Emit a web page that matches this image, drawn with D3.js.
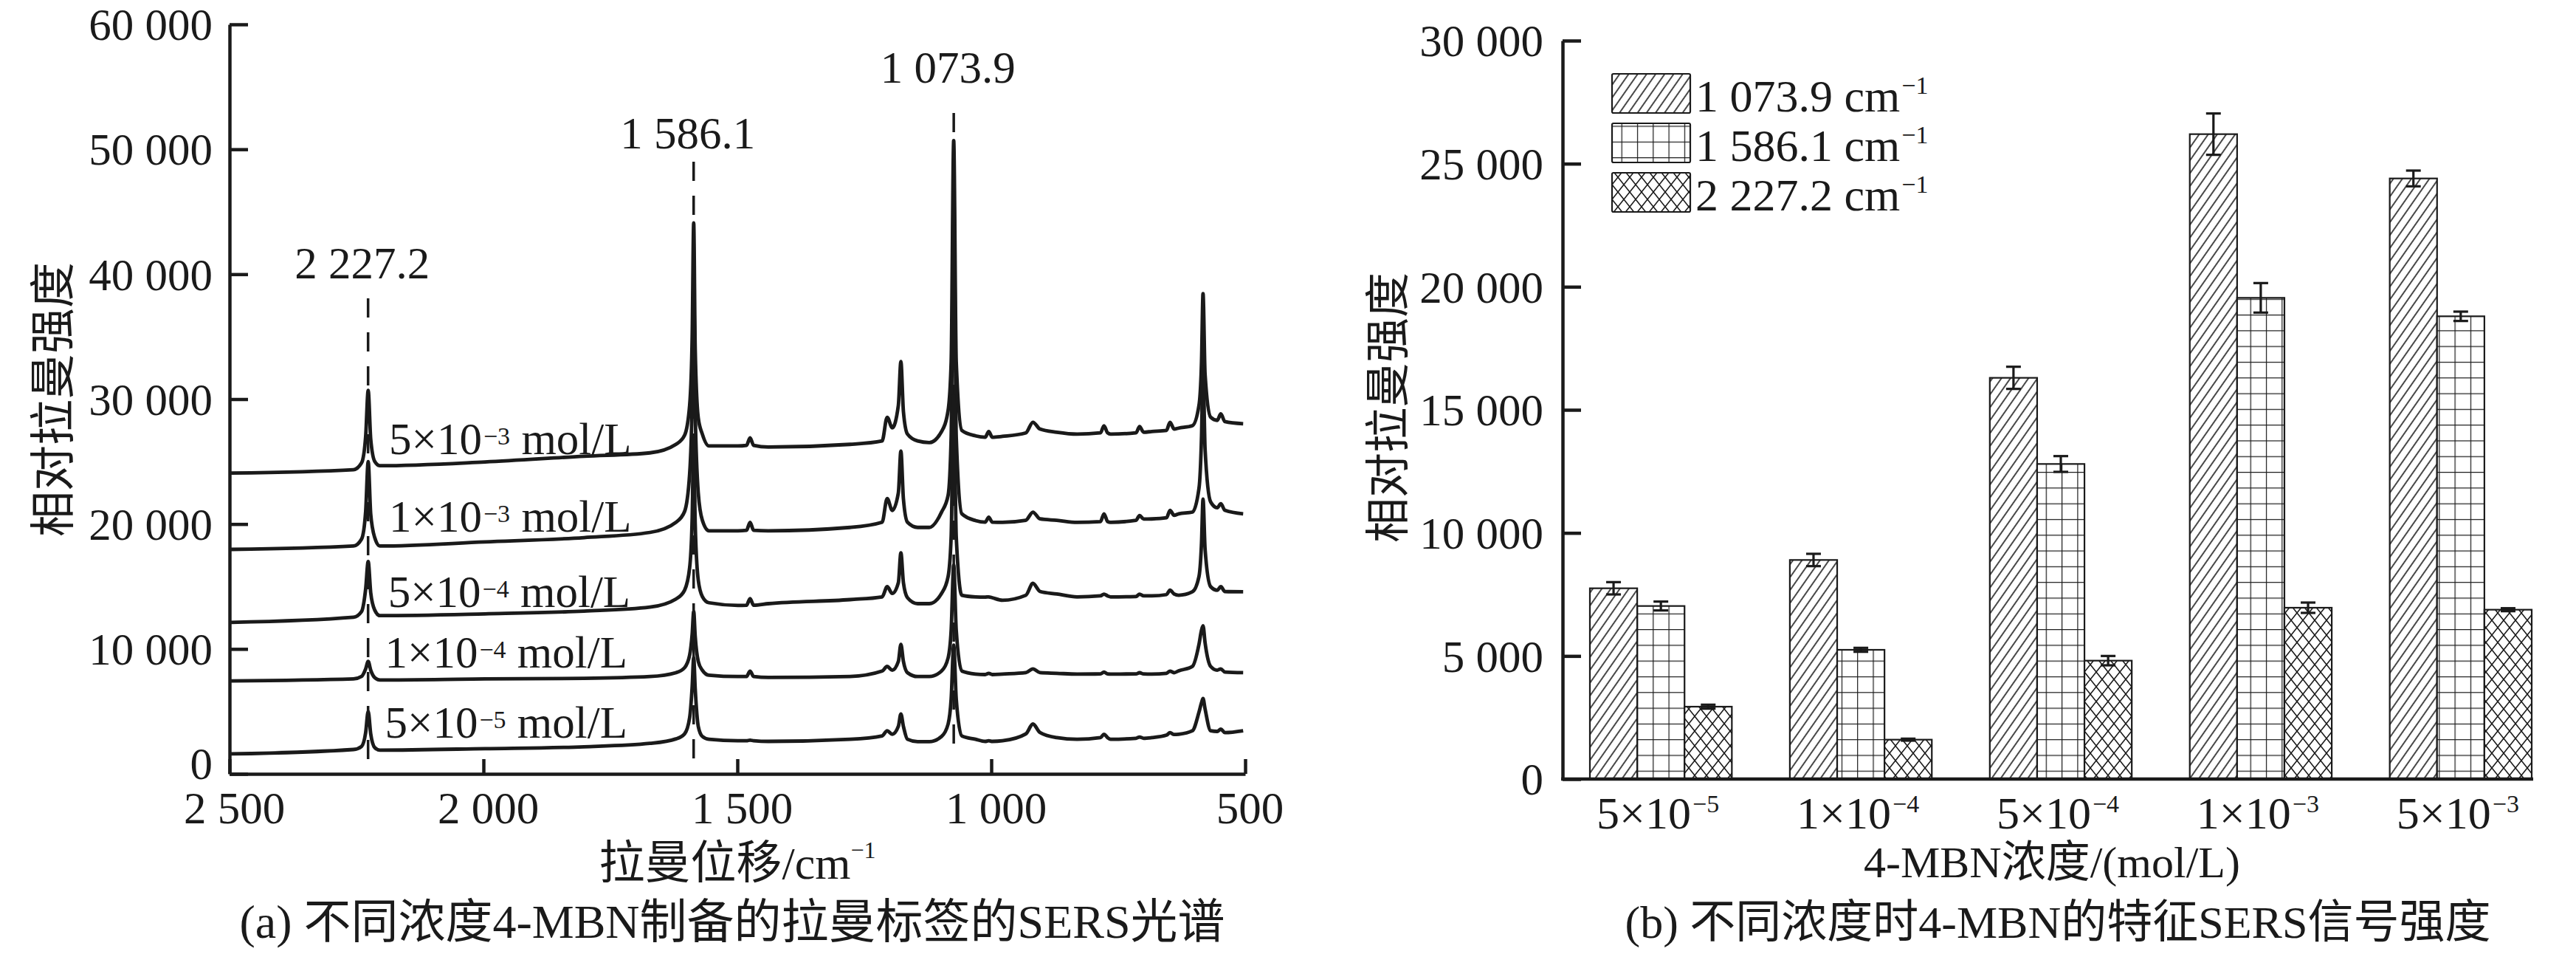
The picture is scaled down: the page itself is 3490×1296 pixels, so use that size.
<!DOCTYPE html>
<html><head><meta charset="utf-8">
<script src="https://cdn.jsdelivr.net/npm/d3@7/dist/d3.min.js"></script>
<style>body{margin:0;background:#fff}svg{display:block}</style>
</head><body>
<svg id="c" width="3490" height="1296"></svg>
<script>
// ---------- DATA: panel (a) spectra ----------
const ramanShift = [2497,2256,2240,2232,2227,2222,2214,2204,1997,1802,1672,1621,1604,1594,1589,1586,1583,1577,1569,1556,1499,1482,1475,1468,1439,1278,1215,1205,1195,1183,1178,1173,1165,1145,1122,1098,1085,1079,1074,1069,1058,1031,1012,1005,998,978,932,918,904,871,831,785,778,771,765,715,708,700,684,655,648,640,631,604,591,586,583,579,568,555,548,540,504];
const spec5e3 = [24080,24350,24900,27000,30700,26800,25000,24670,24970,25430,25700,26380,27100,29500,35000,44100,34000,28500,27200,26250,26250,26300,26900,26300,26160,26380,26650,28550,27700,29500,33000,29000,27200,26650,26520,27400,29100,33000,50700,33000,27500,27060,26950,27400,26950,27020,27300,28150,27600,27350,27200,27300,27870,27300,27200,27300,27800,27350,27410,27500,28150,27600,27680,27870,29500,33000,38450,32000,28550,28300,28820,28200,28030];
const spec1e3 = [17970,18240,18800,21000,25000,20800,18900,18240,18570,18915,19330,20140,21000,24000,30000,39500,29000,22500,20300,19460,19460,19500,20140,19500,19460,19730,20140,22040,21090,22500,25840,22000,20140,19730,19730,20950,22300,27000,46500,27000,20820,20275,20150,20545,20150,20140,20300,20950,20410,20300,20140,20200,20820,20200,20140,20300,20680,20400,20410,20500,21090,20700,20820,20955,22850,27000,32500,26000,21765,21300,21630,21100,20820];
const spec5e4 = [12130,12540,13000,14800,17000,14500,13100,12670,12810,13030,13350,14000,14700,16500,20500,26800,20000,15500,14200,13700,13490,13500,14030,13500,13625,13950,14170,14985,14440,15300,17700,15300,14100,13625,13625,14440,15800,19000,30300,19000,14300,14170,14150,14170,14100,13900,14300,15250,14600,14400,14170,14250,14390,14250,14170,14200,14390,14250,14250,14350,14710,14400,14300,14575,15800,18500,22000,18000,14985,14700,14985,14600,14575];
const spec1e4 = [7440,7600,7800,8400,9000,8300,7700,7520,7600,7650,7790,8100,8500,9500,11200,13000,11000,9000,8300,7900,7790,7800,8230,7800,7720,7800,8230,8600,8300,9000,10370,9000,8100,7790,7790,8230,9280,11500,16700,11500,8230,7990,7950,8050,7950,7990,8100,8400,8100,8050,7990,8000,8150,8000,7990,8000,8100,8000,7990,8050,8230,8100,8250,8600,10370,11500,11860,10500,8600,8300,8400,8150,8100];
const spec5e5 = [1600,1950,2200,3300,5000,3200,2100,1900,2020,2170,2440,2800,3200,4500,7000,9300,6800,3800,3000,2770,2650,2650,2700,2650,2600,2770,3040,3450,3175,3800,4800,3800,2770,2580,2580,2990,3990,6000,10300,6000,3040,2770,2600,2650,2600,2650,3200,3990,3310,2900,2770,2900,3175,2900,2770,2850,2950,2850,2900,3100,3300,3150,3175,3450,4940,5700,6030,5200,3450,3400,3580,3300,3450];
const spectraSeries = [spec5e3, spec1e3, spec5e4, spec1e4, spec5e5];
const concMant = ["5","1","5","1","5"];
const concExp  = ["\u22123","\u22123","\u22124","\u22124","\u22125"];
// annotation anchors in data units [shift, intensity]
const concLabelShift = [2186,2186,2188,2194,2194];
const concLabelValue = [25590,19390,13360,8510,2900];
const peakShift = [2227.2, 1586.1, 1073.9];
const peakLabels = ["2 227.2","1 586.1","1 073.9"];
const peakLineTop = [38070, 49000, 52900];
const peakLineBottom = [650, 650, 1300];
const peakLabelValue = [39660, 50070, 55330];
const specXTicks = [2500,2000,1500,1000,500];
const specYTicks = [0,10000,20000,30000,40000,50000,60000];

// ---------- DATA: panel (b) bars ----------
const barCatMant = ["5","1","5","1","5"];
const barCatExp  = ["\u22125","\u22124","\u22124","\u22123","\u22123"];
const barSeriesNames = ["1 073.9","1 586.1","2 227.2"];
const bar1074 = [7750, 8900, 16300, 26200, 24400];
const err1074 = [250, 250, 450, 840, 320];
const bar1586 = [7030, 5250, 12800, 19550, 18800];
const err1586 = [180, 80, 320, 600, 190];
const bar2227 = [2940, 1600, 4810, 6960, 6880];
const err2227 = [80, 40, 190, 210, 60];
const barYTicks = [0,5000,10000,15000,20000,25000,30000];

// ---------- DRAW ----------
const FONT = "'Liberation Serif','Times New Roman','Noto Sans CJK SC',serif";
const INK = "#1a1a1a";
const svg = d3.select("#c");
svg.append("rect").attr("width",3490).attr("height",1296).attr("fill","#fff");
const fmt = v => d3.format(",")(v).replace(/,/g," ");

// panel (a)
const xA = d3.scaleLinear().domain([2500,500]).range([311,1687]);
const yA = d3.scaleLinear().domain([0,60000]).range([1048,33]);
const gA = svg.append("g");

const axA_y = gA.append("g").attr("transform","translate(311,0)")
  .call(d3.axisLeft(yA).tickValues(specYTicks).tickFormat(fmt).tickSize(-25).tickSizeOuter(0).tickPadding(23));
const axA_x = gA.append("g").attr("transform","translate(0,1048)")
  .call(d3.axisBottom(xA).tickValues(specXTicks).tickFormat(fmt).tickSize(-20).tickSizeOuter(0).tickPadding(24));
[axA_y, axA_x].forEach(a=>{
  a.selectAll("path,line").attr("stroke",INK).attr("stroke-width",4.5);
  a.selectAll("text").attr("font-family",FONT).attr("font-size",61).attr("fill",INK);
});
axA_x.selectAll("text").attr("dx",6);
axA_y.selectAll("text").attr("dy","0.34em");
axA_y.selectAll(".tick").filter(d=>d===0).select("text").attr("dy","0.1em");

// dashed marker lines
peakShift.forEach((p,i)=>{
  gA.append("line").attr("x1",xA(p)).attr("x2",xA(p))
    .attr("y1",yA(peakLineTop[i])).attr("y2",yA(peakLineBottom[i]))
    .attr("stroke",INK).attr("stroke-width",3.5).attr("stroke-dasharray","26,20");
  gA.append("text").attr("x",xA(p)-8).attr("y",yA(peakLabelValue[i]))
    .attr("text-anchor","middle").attr("font-family",FONT).attr("font-size",61).attr("fill",INK)
    .text(peakLabels[i]);
});

const line = d3.line().x(d=>xA(d[0])).y(d=>yA(d[1])).curve(d3.curveMonotoneX);
spectraSeries.forEach(s=>{
  gA.append("path").datum(ramanShift.map((w,i)=>[w,s[i]]))
    .attr("d",line).attr("fill","none").attr("stroke",INK).attr("stroke-width",4.8)
    .attr("stroke-linejoin","round");
});

concMant.forEach((m,i)=>{
  const t = gA.append("text").attr("x",xA(concLabelShift[i])).attr("y",yA(concLabelValue[i]))
    .attr("font-family",FONT).attr("font-size",61).attr("fill",INK);
  t.append("tspan").text(m+"\u00d710");
  t.append("tspan").attr("font-size",34).attr("dy",-13).attr("dx",2).text(concExp[i]);
  t.append("tspan").attr("dy",13).text(" mol/L");
});

// axis titles (a)
const tA = gA.append("text").attr("x",999).attr("y",1190).attr("text-anchor","middle")
  .attr("font-family",FONT).attr("font-size",62).attr("fill",INK);
tA.append("tspan").text("拉曼位移/cm");
tA.append("tspan").attr("font-size",32).attr("dy",-28).text("\u22121");
gA.append("text").attr("transform","translate(94,541) rotate(-90)").attr("text-anchor","middle")
  .attr("font-family",FONT).attr("font-size",62).attr("fill",INK).text("相对拉曼强度");
gA.append("text").attr("x",992).attr("y",1270).attr("text-anchor","middle")
  .attr("font-family",FONT).attr("font-size",64).attr("fill",INK)
  .text("(a) 不同浓度4-MBN制备的拉曼标签的SERS光谱");

// panel (b)
const defs = svg.append("defs");
const p1 = defs.append("pattern").attr("id","hatch").attr("patternUnits","userSpaceOnUse")
  .attr("width",10).attr("height",10).attr("patternTransform","rotate(35)");
p1.append("rect").attr("width",10).attr("height",10).attr("fill","#fff");
p1.append("line").attr("x1",5).attr("x2",5).attr("y1",0).attr("y2",10).attr("stroke",INK).attr("stroke-width",1.6);
const p2 = defs.append("pattern").attr("id","grid").attr("patternUnits","userSpaceOnUse")
  .attr("width",21.3).attr("height",21.3).attr("x",2154);
p2.append("rect").attr("width",21.3).attr("height",21.3).attr("fill","#fff");
p2.append("path").attr("d","M0,0V21.3M0,0H21.3").attr("stroke",INK).attr("stroke-width",2.4).attr("fill","none");
const p3 = defs.append("pattern").attr("id","cross").attr("patternUnits","userSpaceOnUse")
  .attr("width",16).attr("height",20);
p3.append("rect").attr("width",16).attr("height",20).attr("fill","#fff");
p3.append("path").attr("d","M0,0L16,20M16,0L0,20").attr("stroke",INK).attr("stroke-width",1.6).attr("fill","none");
const fills = ["url(#hatch)","url(#grid)","url(#cross)"];

const cats = barCatExp.map((e,i)=>barCatMant[i]+"x"+e);
const xB = d3.scaleBand().domain(cats).range([2154,3430]).paddingInner(0.29).paddingOuter(0);
const xS = d3.scaleBand().domain([0,1,2]).range([0,xB.bandwidth()]);
const yB = d3.scaleLinear().domain([0,30000]).range([1055,55]);
const gB = svg.append("g");
const barVals = [bar1074, bar1586, bar2227];
const barErrs = [err1074, err1586, err2227];

barVals.forEach((vals,si)=>{
  vals.forEach((v,ci)=>{
    const x0 = xB(cats[ci]) + xS(si);
    gB.append("rect").attr("x",x0).attr("y",yB(v)).attr("width",xS.bandwidth())
      .attr("height",yB(0)-yB(v)).attr("fill",fills[si]).attr("stroke",INK).attr("stroke-width",2.2);
  });
});
barVals.forEach((vals,si)=>{
  vals.forEach((v,ci)=>{
    const cx = xB(cats[ci]) + xS(si) + xS.bandwidth()/2;
    const e = barErrs[si][ci];
    const g = gB.append("g").attr("stroke",INK).attr("stroke-width",3.2);
    g.append("line").attr("x1",cx).attr("x2",cx).attr("y1",yB(v+e)).attr("y2",yB(v-e));
    g.append("line").attr("x1",cx-10).attr("x2",cx+10).attr("y1",yB(v+e)).attr("y2",yB(v+e));
    g.append("line").attr("x1",cx-10).attr("x2",cx+10).attr("y1",yB(v-e)).attr("y2",yB(v-e));
  });
});

const axB_y = gB.append("g").attr("transform","translate(2117,0)")
  .call(d3.axisLeft(yB).tickValues(barYTicks).tickFormat(fmt).tickSize(-25).tickSizeOuter(0).tickPadding(26));
axB_y.selectAll("path,line").attr("stroke",INK).attr("stroke-width",4.5);
axB_y.selectAll("text").attr("font-family",FONT).attr("font-size",61).attr("fill",INK).attr("dy","0.34em");
gB.append("line").attr("x1",2115).attr("x2",xB.range()[1]+2).attr("y1",yB(0)).attr("y2",yB(0))
  .attr("stroke",INK).attr("stroke-width",4.5);

cats.forEach((c,i)=>{
  const t = gB.append("text").attr("x",xB(c)+xB.bandwidth()/2-4).attr("y",1122)
    .attr("text-anchor","middle").attr("font-family",FONT).attr("font-size",62).attr("fill",INK);
  t.append("tspan").text(barCatMant[i]+"\u00d710");
  t.append("tspan").attr("font-size",34).attr("dy",-22).attr("dx",2).text(barCatExp[i]);
});

// legend
barSeriesNames.forEach((n,i)=>{
  const y0 = 100 + i*67;
  gB.append("rect").attr("x",2184).attr("y",y0).attr("width",106).attr("height",53)
    .attr("rx",2).attr("fill",fills[i]).attr("stroke",INK).attr("stroke-width",2.2);
  const t = gB.append("text").attr("x",2297).attr("y",y0+51)
    .attr("font-family",FONT).attr("font-size",62).attr("fill",INK);
  t.append("tspan").text(n+" cm");
  t.append("tspan").attr("font-size",34).attr("dy",-24).attr("dx",2).text("\u22121");
});

gB.append("text").attr("x",2780).attr("y",1188).attr("text-anchor","middle")
  .attr("font-family",FONT).attr("font-size",60).attr("fill",INK).text("4-MBN浓度/(mol/L)");
gB.append("text").attr("transform","translate(1902,552) rotate(-90)").attr("text-anchor","middle")
  .attr("font-family",FONT).attr("font-size",61).attr("fill",INK).text("相对拉曼强度");
gB.append("text").attr("x",2788).attr("y",1270).attr("text-anchor","middle")
  .attr("font-family",FONT).attr("font-size",62).attr("fill",INK)
  .text("(b) 不同浓度时4-MBN的特征SERS信号强度");
</script>
</body></html>
